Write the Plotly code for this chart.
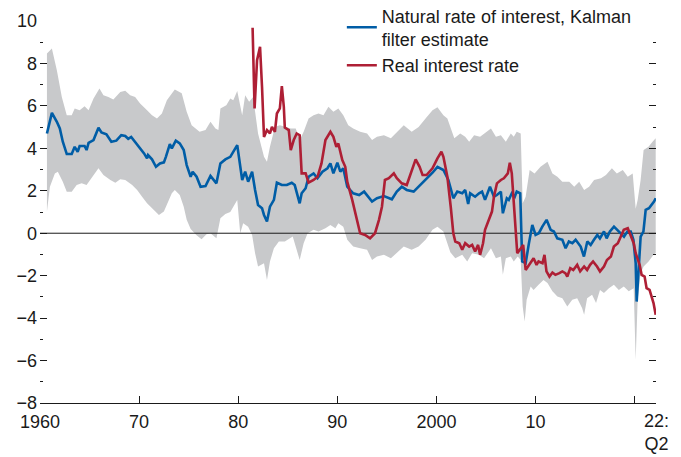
"""Natural rate of interest (Kalman filter) vs real interest rate, Plotly version."""

import plotly.graph_objects as go

FONT = "Liberation Sans, Arial, Helvetica, sans-serif"
FONT_SIZE = 18
BLUE = "#005DA6"
RED = "#AE1F35"
BAND = "#C8C9CB"
INK = "#1a1a1a"

X_RANGE = [1960, 2022.15]
TICK_YEARS = [1960, 1970, 1980, 1990, 2000, 2010, 2020]
TICK_TEXT = ["1960", "70", "80", "90", "2000", "10", ""]
Y_TICKS = [-8, -6, -4, -2, 0, 2, 4, 6, 8, 10]

# natural rate of interest, Kalman filter estimate
natural_x = [
    1960.7, 1961.2, 1961.7, 1962.0, 1962.3, 1962.7, 1963.2, 1963.5, 1963.8, 1964.0,
    1964.5, 1964.7, 1964.9, 1965.4, 1965.9, 1966.2, 1966.7, 1967.2, 1967.7, 1968.2,
    1968.6, 1968.9, 1969.2, 1969.6, 1970.1, 1970.5, 1970.8, 1970.9, 1971.3, 1971.7,
    1972.1, 1972.5, 1972.7, 1973.1, 1973.3, 1973.7, 1974.1, 1974.5, 1974.8, 1975.2,
    1975.4, 1975.8, 1976.2, 1976.7, 1977.2, 1977.5, 1977.8, 1978.2, 1978.7, 1979.2,
    1979.5, 1979.9, 1980.4, 1980.7, 1981.0, 1981.4, 1981.7, 1982.0, 1982.4, 1982.6,
    1982.9, 1983.2, 1983.6, 1983.9, 1984.4, 1984.9, 1985.4, 1985.7, 1986.2, 1986.4,
    1986.8, 1987.1, 1987.6, 1988.0, 1988.5, 1989.0, 1989.3, 1989.6, 1990.0, 1990.3,
    1990.6, 1991.0, 1991.6, 1992.2, 1992.7, 1993.5, 1994.0, 1994.7, 1995.5, 1996.0,
    1996.5, 1997.0, 1997.7, 1998.4, 1998.9, 1999.6, 2000.1, 2000.7, 2001.2, 2001.7,
    2002.1, 2002.6, 2002.9, 2003.2, 2003.4, 2003.9, 2004.3, 2004.6, 2004.9, 2005.4,
    2005.8, 2006.1, 2006.5, 2006.7, 2007.1, 2007.3, 2007.6, 2007.9, 2008.1, 2008.45,
    2008.65, 2009.0, 2009.33, 2009.67, 2010.0, 2010.33, 2010.68, 2011.11, 2011.52, 2011.85,
    2012.19, 2012.7, 2013.03, 2013.36, 2013.71, 2014.04, 2014.55, 2014.88, 2015.22, 2015.56,
    2015.89, 2016.23, 2016.49, 2016.9, 2017.17, 2017.5, 2017.91, 2018.25, 2018.59, 2018.92,
    2019.26, 2019.6, 2019.87, 2020.1, 2020.2, 2020.43, 2020.6, 2020.88, 2021.11, 2021.44,
    2021.69, 2021.95, 2022.12,
]
natural_y = [
    4.70, 5.67, 5.25, 4.94, 4.31, 3.73, 3.73, 4.07, 3.84, 4.11,
    4.11, 3.92, 4.26, 4.39, 4.97, 4.75, 4.66, 4.31, 4.36, 4.62,
    4.58, 4.45, 4.54, 4.31, 4.00, 3.76, 3.53, 3.68, 3.48, 3.13,
    3.29, 3.34, 3.60, 4.20, 4.00, 4.36, 4.23, 3.92, 3.21, 2.66,
    2.90, 2.66, 2.19, 2.22, 2.70, 2.51, 2.35, 3.29, 3.48, 3.60,
    3.84, 4.15, 2.51, 2.90, 2.43, 2.90, 2.04, 1.33, 1.18, 0.86,
    0.55, 1.25, 1.57, 2.38, 2.27, 2.27, 2.38, 2.27, 1.41, 1.88,
    2.12, 2.66, 2.82, 2.59, 2.90, 3.06, 3.29, 2.82, 3.32, 2.90,
    3.06, 2.19, 1.88, 1.80, 1.96, 1.49, 1.65, 1.75, 1.60, 1.96,
    2.19, 2.04, 1.96, 2.27, 2.51, 2.85, 3.13, 2.98, 2.51, 1.65,
    1.96, 1.88, 2.04, 1.38, 1.88, 1.72, 1.88, 1.96, 1.57, 2.19,
    1.72, 1.80, 1.96, 0.94, 1.65, 1.57, 1.88, 1.72, 1.96, 1.88,
    -1.33, -1.41, -0.47, 0.39, -0.08, 0.00, 0.31, 0.63, 0.16, 0.08,
    -0.24, -0.31, -0.71, -0.39, -0.47, -0.31, -0.63, -1.10, -0.39, -0.55,
    -0.31, -0.08, -0.24, 0.08, -0.24, 0.08, 0.31, 0.16, 0.00, -0.16,
    0.08, 0.08, -0.31, -1.41, -3.22, -1.57, -0.16, 0.08, 1.10, 1.18,
    1.33, 1.49, 1.65,
]

# real interest rate
real_x = [
    1981.45, 1981.65, 1981.9, 1982.2, 1982.4, 1982.6, 1982.9, 1983.2, 1983.4, 1983.7,
    1983.9, 1984.2, 1984.4, 1984.6, 1984.7, 1985.1, 1985.3, 1985.6, 1985.9, 1986.2,
    1986.4, 1986.8, 1987.1, 1987.6, 1988.0, 1988.4, 1988.8, 1989.3, 1989.6, 1989.9,
    1990.1, 1990.5, 1990.8, 1991.0, 1991.5, 1992.0, 1992.3, 1992.8, 1993.3, 1993.8,
    1994.2, 1994.5, 1994.8, 1995.2, 1995.7, 1996.0, 1996.5, 1997.0, 1997.5, 1997.9,
    1998.3, 1998.6, 1999.0, 1999.6, 2000.1, 2000.5, 2000.7, 2001.1, 2001.45, 2001.7,
    2001.9, 2002.3, 2002.6, 2002.9, 2003.3, 2003.6, 2003.9, 2004.2, 2004.4, 2004.7,
    2004.9, 2005.3, 2005.6, 2005.8, 2006.1, 2006.5, 2006.8, 2007.2, 2007.4, 2007.6,
    2007.8, 2008.05, 2008.15, 2008.45, 2008.75, 2009.0, 2009.5, 2009.8, 2010.1, 2010.3,
    2010.7, 2010.9, 2011.1, 2011.4, 2011.7, 2012.0, 2012.4, 2012.7, 2013.0, 2013.2,
    2013.5, 2013.8, 2014.2, 2014.5, 2014.9, 2015.2, 2015.5, 2015.8, 2016.2, 2016.5,
    2016.9, 2017.2, 2017.6, 2017.9, 2018.3, 2018.6, 2018.9, 2019.3, 2019.5, 2019.9,
    2020.1, 2020.5, 2020.7, 2021.0, 2021.2, 2021.5, 2021.9, 2022.12,
]
real_y = [
    9.68, 5.88, 8.15, 8.78, 6.90, 4.54, 4.86, 4.70, 5.01, 4.78,
    5.64, 5.88, 6.93, 5.96, 4.98, 4.86, 3.92, 4.39, 4.70, 4.62,
    2.82, 2.82, 2.38, 2.51, 2.66, 3.29, 4.39, 4.78, 4.54, 4.07,
    4.23, 3.45, 3.13, 2.43, 1.57, 0.63, 0.00, -0.08, -0.24, 0.00,
    0.63, 1.25, 2.51, 2.59, 2.82, 2.59, 2.35, 2.27, 2.98, 3.48,
    3.13, 2.74, 2.74, 3.06, 3.53, 3.84, 3.60, 2.66, 1.20, 0.00,
    -0.39, -0.47, -0.78, -0.47, -0.63, -0.55, -0.86, -0.55, -1.02, -0.47,
    0.16, 0.70, 1.02, 1.72, 2.35, 2.51, 2.59, 2.82, 3.32, 2.82,
    1.57, -0.20, -0.94, -0.75, -0.55, -1.73, -1.41, -1.18, -1.49, -1.33,
    -1.41, -1.02, -1.80, -2.04, -1.85, -1.96, -1.88, -1.80, -1.88, -2.04,
    -1.65, -1.73, -1.49, -1.80, -1.57, -1.73, -1.49, -1.33, -1.57, -1.80,
    -1.57, -1.26, -1.10, -0.63, -0.47, -0.16, 0.16, 0.24, 0.00, -0.47,
    -0.94, -1.49, -1.96, -2.04, -2.59, -2.67, -3.29, -3.84,
]

# confidence band, upper edge
upper_x = [
    1960.7, 1961.2, 1961.7, 1962.2, 1962.7, 1963.2, 1963.5, 1964.0, 1964.5, 1964.9,
    1965.4, 1966.0, 1966.4, 1966.9, 1967.4, 1968.1, 1968.6, 1969.1, 1969.6, 1970.1,
    1970.8, 1971.3, 1971.8, 1972.3, 1972.8, 1973.2, 1973.6, 1974.3, 1974.8, 1975.3,
    1976.1, 1976.7, 1977.2, 1977.7, 1978.0, 1978.2, 1978.8, 1979.2, 1979.5, 1979.9,
    1980.4, 1980.7, 1981.1, 1981.5, 1981.7, 1982.0, 1982.6, 1982.9, 1983.2, 1983.7,
    1984.2, 1984.7, 1985.3, 1985.8, 1986.2, 1986.6, 1987.1, 1987.6, 1988.1, 1988.6,
    1989.1, 1989.6, 1990.1, 1990.6, 1991.1, 1991.6, 1992.3, 1993.0, 1993.5, 1994.0,
    1994.7, 1995.4, 1996.0, 1996.7, 1997.5, 1998.2, 1998.9, 1999.6, 2000.1, 2000.7,
    2001.1, 2001.8, 2002.4, 2002.9, 2003.3, 2003.8, 2004.4, 2004.8, 2005.5, 2006.0,
    2006.5, 2007.0, 2007.5, 2007.8, 2008.1, 2008.5, 2008.7, 2009.0, 2009.4, 2009.9,
    2010.5, 2011.2, 2011.7, 2012.2, 2012.7, 2013.4, 2013.9, 2014.4, 2014.9, 2015.4,
    2015.9, 2016.6, 2017.1, 2017.7, 2018.2, 2018.8, 2019.3, 2019.8, 2020.0, 2020.1,
    2020.3, 2020.6, 2020.9, 2021.4, 2021.8, 2022.12,
]
upper_y = [
    8.47, 8.70, 7.68, 6.42, 5.56, 5.56, 5.88, 5.80, 5.98, 5.80,
    6.35, 6.82, 6.50, 6.42, 6.30, 6.66, 6.71, 6.50, 6.42, 6.11,
    5.80, 5.56, 5.41, 5.64, 6.27, 6.55, 6.77, 6.59, 5.72, 5.09,
    4.78, 4.86, 5.25, 4.94, 4.86, 5.88, 6.03, 6.35, 6.27, 6.70,
    5.56, 6.50, 6.19, 6.42, 5.64, 4.70, 3.60, 3.37, 4.07, 5.01,
    5.09, 5.01, 4.94, 4.94, 4.39, 4.78, 5.41, 5.56, 5.64, 5.56,
    5.96, 5.72, 5.88, 5.56, 5.09, 4.94, 4.78, 4.70, 4.39, 4.54,
    4.62, 4.47, 4.78, 5.09, 4.78, 5.01, 5.41, 5.80, 5.93, 5.56,
    5.41, 4.47, 4.70, 4.54, 4.31, 4.62, 4.54, 4.70, 4.94, 4.54,
    4.62, 4.31, 4.70, 4.54, 4.78, 4.70, 1.41, 1.72, 2.98, 2.82,
    3.13, 3.37, 2.82, 2.66, 2.43, 2.43, 2.19, 2.43, 2.04, 2.19,
    2.51, 2.59, 2.74, 3.06, 2.82, 2.98, 2.66, 2.82, 1.88, 1.15,
    1.57, 2.51, 3.92, 4.07, 4.31, 4.47,
]

# confidence band, lower edge
lower_x = [
    1960.7, 1961.0, 1961.5, 1961.8, 1962.3, 1962.7, 1963.2, 1963.7, 1964.2, 1964.7,
    1965.2, 1965.9, 1966.4, 1967.1, 1967.6, 1968.1, 1968.6, 1969.3, 1969.8, 1970.3,
    1970.8, 1971.5, 1972.0, 1972.5, 1972.8, 1973.3, 1973.6, 1974.1, 1974.5, 1974.8,
    1975.2, 1975.8, 1976.3, 1976.8, 1977.2, 1977.8, 1978.2, 1978.7, 1979.2, 1979.9,
    1980.2, 1980.5, 1981.0, 1981.4, 1981.7, 1982.0, 1982.6, 1982.9, 1983.2, 1983.6,
    1984.1, 1984.7, 1985.5, 1986.2, 1986.6, 1987.0, 1987.6, 1988.1, 1988.8, 1989.3,
    1989.8, 1990.1, 1990.6, 1991.0, 1991.6, 1992.3, 1993.0, 1993.5, 1994.0, 1994.7,
    1995.4, 1996.0, 1996.7, 1997.5, 1998.2, 1998.9, 1999.6, 2000.1, 2000.7, 2001.4,
    2001.9, 2002.6, 2003.1, 2003.6, 2004.3, 2004.8, 2005.5, 2006.0, 2006.5, 2006.7,
    2007.0, 2007.5, 2007.8, 2008.2, 2008.5, 2008.7, 2008.9, 2009.1, 2009.5, 2009.8,
    2010.3, 2010.8, 2011.2, 2011.7, 2012.2, 2012.7, 2013.2, 2013.7, 2014.2, 2014.7,
    2014.9, 2015.2, 2015.7, 2016.1, 2016.5, 2016.9, 2017.4, 2017.9, 2018.4, 2018.9,
    2019.4, 2019.9, 2020.1, 2020.3, 2020.6, 2020.9, 2021.4, 2021.9, 2022.12,
]
lower_y = [
    1.02, 2.19, 2.82, 2.90, 2.43, 1.96, 1.96, 2.27, 2.35, 2.27,
    2.59, 3.06, 2.74, 2.51, 2.38, 2.54, 2.51, 2.27, 2.04, 1.72,
    1.41, 1.10, 0.86, 1.02, 1.33, 1.88, 2.04, 1.80, 1.25, 0.63,
    0.20, -0.10, -0.28, -0.05, 0.00, -0.24, 0.70, 0.90, 1.00, 1.57,
    0.00, 0.47, 0.31, -0.08, -0.94, -1.57, -1.41, -2.20, -1.33, -0.71,
    -0.39, -0.39, -0.16, -1.26, -0.47, 0.00, 0.16, 0.08, 0.24, 0.39,
    0.24, 0.47, 0.31, -0.31, -0.63, -0.71, -0.78, -1.26, -1.10, -1.02,
    -1.18, -0.94, -0.63, -0.78, -0.63, -0.31, 0.16, 0.31, 0.08, -0.90,
    -1.18, -1.02, -1.33, -0.94, -1.02, -1.18, -0.71, -1.18, -1.10, -1.96,
    -1.18, -1.10, -1.33, -1.10, -1.26, -3.45, -4.16, -3.14, -2.51, -2.67,
    -2.43, -2.20, -2.35, -2.74, -2.98, -3.06, -3.45, -3.14, -3.06, -3.53,
    -3.84, -3.06, -2.90, -3.29, -2.67, -2.82, -2.59, -2.43, -2.67, -2.51,
    -2.74, -2.59, -5.96, -3.14, -1.88, -1.57, -1.33, -1.02, -0.94,
]

fig = go.Figure()

# shaded band as one closed polygon: upper edge forward, lower edge back
fig.add_trace(go.Scatter(
    x=upper_x + lower_x[::-1],
    y=upper_y + lower_y[::-1],
    fill="toself", fillcolor=BAND, mode="lines",
    line=dict(width=0, color=BAND),
    showlegend=False, hoverinfo="skip",
))
# zero reference line, drawn above the band but under the series
fig.add_trace(go.Scatter(
    x=X_RANGE, y=[0, 0], mode="lines",
    line=dict(color=INK, width=1),
    showlegend=False, hoverinfo="skip",
))
fig.add_trace(go.Scatter(
    x=natural_x, y=natural_y, mode="lines",
    name="Natural rate of interest, Kalman<br>filter estimate",
    line=dict(color=BLUE, width=2.6),
))
fig.add_trace(go.Scatter(
    x=real_x, y=real_y, mode="lines",
    name="Real interest rate",
    line=dict(color=RED, width=2.6),
))

# last observation label under the right end of the axis
fig.add_annotation(
    x=X_RANGE[1], y=0, xref="x", yref="paper",
    text="22:<br>Q2", showarrow=False,
    xanchor="center", yanchor="top", yshift=-6,
    font=dict(family=FONT, size=FONT_SIZE, color=INK),
)

# the page body adds an 8px margin, so the figure is sized 8px smaller
fig.update_layout(
    width=673, height=449,
    margin=dict(l=32, r=25, t=13, b=54, autoexpand=False),
    paper_bgcolor="white", plot_bgcolor="white",
    font=dict(family=FONT, size=FONT_SIZE, color=INK),
    showlegend=True,
    legend=dict(
        x=0.49, y=1.062, xanchor="left", yanchor="top",
        bgcolor="rgba(0,0,0,0)", font=dict(size=FONT_SIZE),
        tracegroupgap=0, itemwidth=30,
    ),
    xaxis=dict(
        range=X_RANGE, tickvals=TICK_YEARS, ticktext=TICK_TEXT,
        ticks="inside", ticklen=7, tickwidth=1.2, tickcolor=INK,
        ticklabelstandoff=2,
        showline=True, linecolor=INK, linewidth=1.3,
        showgrid=False, zeroline=False,
    ),
    yaxis=dict(
        range=[-8, 10], tickvals=Y_TICKS,
        ticks="inside", ticklen=7, tickwidth=1.2, tickcolor=INK,
        ticklabelstandoff=2,
        minor=dict(ticks="inside", ticklen=3, tickwidth=1.2, tickcolor=INK,
                   tick0=-8, dtick=1),
        mirror="ticks", showline=False,
        showgrid=False, zeroline=False,
    ),
)

fig.write_html("out.html")
